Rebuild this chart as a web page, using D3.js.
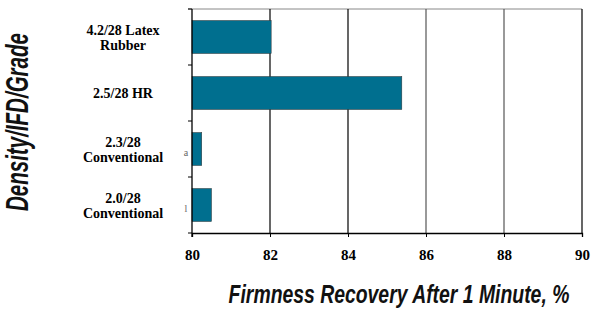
<!DOCTYPE html>
<html>
<head>
<meta charset="utf-8">
<script src="https://cdn.jsdelivr.net/npm/d3@7"></script>
<style>
  body { margin: 0; background: #fff; }
  svg { display: block; }
</style>
</head>
<body>
<div class="chart"></div>
<script>
var categories = [
  ["4.2/28 Latex", "Rubber"],
  ["2.5/28 HR"],
  ["2.3/28", "Conventional"],
  ["2.0/28", "Conventional"]
];
var recovery = [82.03, 85.38, 80.25, 80.5];
var xTicks = [80, 82, 84, 86, 88, 90];

var width = 595, height = 318;
var margin = {top: 9, right: 13, bottom: 85, left: 192};

var svg = d3.select(".chart").append("svg")
  .attr("width", width)
  .attr("height", height);

var x = d3.scaleLinear().domain([80, 90]).range([margin.left, width - margin.right]);
var y = d3.scaleBand()
  .domain(categories.map(function(d, i) { return i; }))
  .range([margin.top, height - margin.bottom])
  .paddingInner(0.41)
  .paddingOuter(0.205);

var plotTop = margin.top, plotBottom = height - margin.bottom;

// top border
svg.append("line")
  .attr("x1", x(80) - 4).attr("x2", x(90))
  .attr("y1", plotTop).attr("y2", plotTop)
  .attr("stroke", "#888").attr("stroke-width", 1);

// vertical gridlines
svg.selectAll("line.grid").data(xTicks.slice(1)).enter().append("line")
  .attr("class", "grid")
  .attr("x1", function(d) { return x(d); })
  .attr("x2", function(d) { return x(d); })
  .attr("y1", plotTop).attr("y2", plotBottom)
  .attr("stroke", function(d) { return (d == 86 || d == 88) ? "#555" : "#000"; })
  .attr("stroke-width", 1.2);

// bars
svg.selectAll("rect.bar").data(recovery).enter().append("rect")
  .attr("class", "bar")
  .attr("x", x(80))
  .attr("y", function(d, i) { return y(i); })
  .attr("width", function(d) { return x(d) - x(80); })
  .attr("height", y.bandwidth())
  .attr("fill", "#006f8f")
  .attr("stroke", "#333")
  .attr("stroke-width", 0.5);

// clipped label fragments visible next to the small bars
svg.selectAll("text.frag").data(["a", "l"]).enter().append("text")
  .attr("class", "frag")
  .attr("x", 186)
  .attr("y", function(d, i) { return (i == 0 ? y(2) : y(3)) + y.bandwidth() / 2 + 7; })
  .attr("text-anchor", "middle")
  .style("font-family", "'Liberation Serif', serif")
  .style("font-size", "10px")
  .attr("fill", "#666")
  .text(function(d) { return d; });

// x axis
var xAxis = d3.axisBottom(x).tickValues(xTicks).tickSize(4).tickFormat(d3.format("d"));
var gx = svg.append("g")
  .attr("transform", "translate(0," + plotBottom + ")")
  .call(xAxis);
gx.select(".domain").attr("stroke", "#000").attr("stroke-width", 1.3);
gx.selectAll("text")
  .attr("y", 27)
  .attr("dy", 0)
  .style("font-family", "'Liberation Serif', 'DejaVu Serif', serif")
  .style("font-weight", "bold")
  .style("font-size", "15px")
  .attr("fill", "#000");

// left axis line with ticks at band boundaries
svg.append("line")
  .attr("x1", x(80)).attr("x2", x(80))
  .attr("y1", plotTop).attr("y2", plotBottom + 4)
  .attr("stroke", "#000").attr("stroke-width", 1.3);
var bounds = d3.range(categories.length + 1).map(function(i) { return plotTop + i * (plotBottom - plotTop) / categories.length; });
svg.selectAll("line.ytick").data(bounds).enter().append("line")
  .attr("class", "ytick")
  .attr("x1", x(80) - 4).attr("x2", x(80))
  .attr("y1", function(d) { return d; }).attr("y2", function(d) { return d; })
  .attr("stroke", "#000").attr("stroke-width", 1);

// category labels
var labels = svg.selectAll("text.cat").data(categories).enter().append("text")
  .attr("class", "cat")
  .attr("text-anchor", "middle")
  .style("font-family", "'Liberation Serif', 'DejaVu Serif', serif")
  .style("font-weight", "bold")
  .style("font-size", "14px")
  .attr("fill", "#000");
labels.each(function(d, i) {
  var cy = y(i) + y.bandwidth() / 2;
  var n = d.length;
  d3.select(this).selectAll("tspan").data(d).enter().append("tspan")
    .attr("x", 123)
    .attr("y", function(t, j) { return cy + 5 + (j - (n - 1) / 2) * 15; })
    .text(function(t) { return t; });
});

// condensed titles: squeeze the font horizontally to a target length
var condensed = function(g, label, size, targetLen) {
  var t = g.append("text")
    .attr("text-anchor", "middle")
    .style("font-family", "'Liberation Sans', sans-serif")
    .style("font-style", "italic")
    .style("font-weight", "bold")
    .style("font-size", size + "px")
    .attr("fill", "#111")
    .text(label);
  var len = t.node().getComputedTextLength();
  t.attr("transform", "scale(" + (targetLen / len) + ",1)");
  return t;
};

var yTitle = svg.append("g").attr("transform", "translate(28,122) rotate(-90)");
condensed(yTitle, "Density/IFD/Grade", 31, 178);

var xTitle = svg.append("g").attr("transform", "translate(399,303)");
condensed(xTitle, "Firmness Recovery After 1 Minute, %", 25, 341);
</script>
</body>
</html>
